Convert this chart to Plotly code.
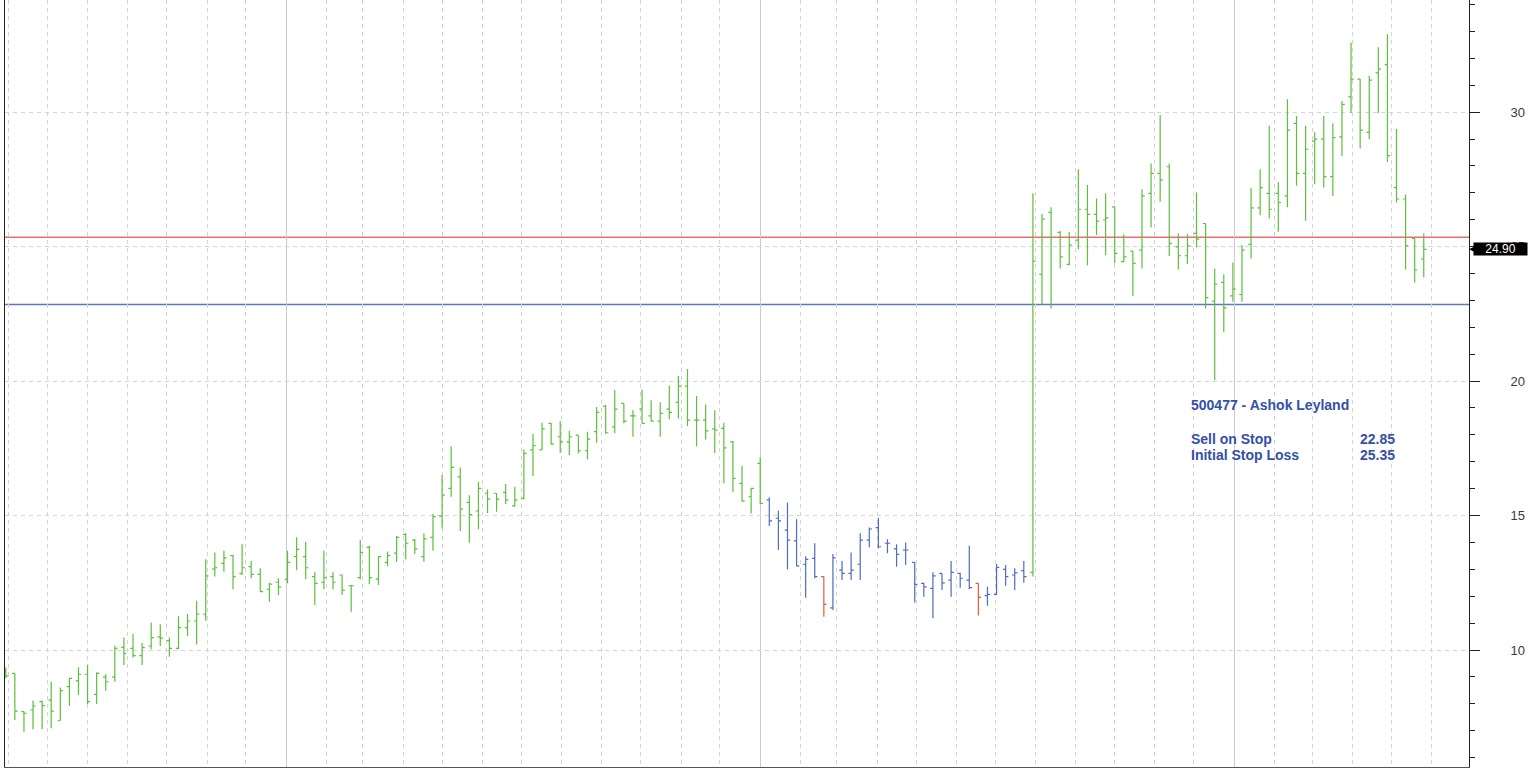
import pandas as pd
import plotly.graph_objects as go

# ---------------- data ----------------
TITLE = "500477 - Ashok Leyland"
SELL_ON_STOP = 22.85
INITIAL_STOP_LOSS = 25.35
LAST_PRICE = 24.90

# weekly bars (Saturday stamps), first one is cut by the left edge
week = pd.date_range("2009-05-30", periods=157, freq="7D")

open_ = [
    9.20, 9.13, 7.71, 7.77, 8.08, 8.14, 7.37, 8.64, 8.85, 9.10,
    8.35, 8.99, 8.99, 10.10, 10.06, 9.79, 10.15, 10.49, 10.35, 10.06,
    10.83, 11.08, 11.33, 13.01, 13.22, 13.51, 12.85, 13.10, 12.81, 12.26,
    12.52, 12.63, 13.47, 13.47, 12.73, 12.52, 12.73, 12.79, 12.39, 12.69,
    13.82, 12.64, 13.26, 13.60, 14.30, 14.09, 13.47, 14.19, 14.98, 16.01,
    16.44, 15.49, 15.17, 15.83, 15.83, 15.86, 15.36, 15.64, 17.44, 17.44,
    18.43, 17.93, 17.74, 17.99, 17.41, 18.12, 19.07, 18.30, 19.17, 18.71,
    18.96, 18.71, 18.51, 18.96, 19.21, 19.81, 18.55, 18.55, 18.22, 18.24,
    17.74, 16.20, 15.70, 16.94, 15.58, 14.90, 14.46, 14.06, 13.19, 13.41,
    12.73, 11.57, 12.97, 12.85, 13.19, 14.09, 14.55, 13.97, 13.76, 13.72,
    13.26, 12.48, 12.29, 12.85, 12.60, 12.85, 12.60, 12.48, 12.02, 12.07,
    13.00, 12.79, 12.95, 12.89, 23.97, 26.27, 25.53, 24.34, 25.24, 26.39,
    26.20, 25.99, 26.48, 24.44, 24.83, 24.87, 26.98, 27.72, 27.97, 24.99,
    24.66, 25.49, 25.86, 22.97, 23.67, 23.17, 23.22, 25.08, 26.44, 26.98,
    26.98, 26.89, 29.58, 27.72, 28.92, 29.00, 27.60, 29.08, 30.57, 31.23,
    29.25, 31.46, 31.77, 27.19, 26.77, 25.31, 24.54,
]
high = [
    9.35, 9.13, 7.71, 8.12, 8.12, 8.82, 8.61, 8.97, 9.36, 9.44,
    9.17, 9.10, 10.16, 10.47, 10.60, 10.27, 11.02, 10.96, 10.47, 11.26,
    11.34, 11.83, 13.38, 13.63, 13.69, 13.53, 13.93, 13.32, 13.04, 12.50,
    12.67, 13.69, 14.19, 14.03, 12.89, 13.69, 12.89, 12.81, 12.42, 14.09,
    13.88, 13.49, 13.66, 14.24, 14.34, 14.13, 14.34, 15.06, 16.51, 17.58,
    16.79, 15.76, 16.26, 15.97, 15.83, 16.17, 16.07, 17.46, 18.03, 18.46,
    18.45, 18.52, 18.15, 17.99, 18.12, 19.04, 19.11, 19.67, 19.17, 18.92,
    19.69, 19.29, 19.21, 19.83, 20.19, 20.45, 19.45, 19.13, 18.92, 18.45,
    17.77, 16.84, 16.03, 17.16, 15.68, 15.18, 15.48, 14.86, 13.49, 13.97,
    12.73, 13.57, 13.31, 13.63, 14.34, 14.56, 14.92, 14.12, 13.93, 14.00,
    13.26, 12.50, 12.89, 12.85, 13.31, 12.87, 13.88, 12.48, 12.35, 13.20,
    13.16, 13.04, 13.31, 26.98, 26.21, 26.46, 25.58, 25.55, 27.88, 27.29,
    26.79, 26.98, 26.48, 25.45, 24.83, 27.13, 28.09, 29.89, 28.09, 25.49,
    25.47, 27.02, 25.86, 24.19, 23.97, 24.41, 25.06, 27.19, 27.88, 29.49,
    27.39, 30.48, 29.86, 29.49, 29.25, 29.86, 29.58, 30.41, 32.58, 31.23,
    31.35, 32.41, 32.90, 29.37, 26.94, 25.31, 25.49,
]
low = [
    8.95, 7.40, 6.96, 7.05, 7.05, 7.09, 7.37, 7.92, 8.33, 7.99,
    7.99, 8.49, 8.82, 9.44, 9.71, 9.44, 10.03, 10.15, 9.75, 10.03,
    10.52, 10.21, 11.09, 12.73, 12.91, 12.26, 12.79, 12.67, 12.17, 11.80,
    12.05, 12.48, 12.97, 12.63, 11.67, 12.26, 12.26, 12.05, 11.42, 12.63,
    12.45, 12.42, 13.12, 13.28, 13.37, 13.57, 13.28, 13.69, 14.52, 15.70,
    14.43, 13.99, 14.49, 15.10, 15.14, 15.43, 15.33, 15.60, 16.47, 17.44,
    17.64, 17.33, 17.25, 17.31, 17.09, 17.71, 18.03, 18.06, 18.43, 17.93,
    18.43, 18.49, 17.93, 18.58, 18.61, 18.33, 17.58, 17.83, 17.33, 16.20,
    15.89, 15.51, 15.08, 15.43, 14.61, 13.72, 13.00, 13.12, 11.94, 12.67,
    11.24, 11.49, 12.60, 12.60, 12.60, 13.82, 13.78, 13.60, 13.10, 13.16,
    11.77, 11.98, 11.18, 12.23, 11.98, 12.32, 12.27, 11.28, 11.65, 12.05,
    12.39, 12.23, 12.50, 12.73, 22.86, 22.70, 24.19, 24.31, 24.90, 24.31,
    25.43, 24.68, 24.38, 24.44, 23.16, 24.19, 25.71, 26.67, 24.65, 24.15,
    24.35, 24.97, 22.70, 20.04, 21.83, 22.95, 22.95, 24.56, 26.17, 26.05,
    25.55, 26.46, 27.26, 25.96, 27.32, 27.20, 26.88, 28.37, 29.97, 28.65,
    28.99, 29.97, 28.15, 26.64, 24.15, 23.67, 23.86,
]
close = [
    9.04, 7.73, 7.65, 7.92, 7.93, 7.73, 8.49, 8.95, 9.10, 8.08,
    9.13, 8.82, 10.06, 9.88, 9.79, 10.09, 10.46, 10.44, 10.06, 10.83,
    11.08, 11.34, 12.76, 13.06, 13.43, 12.73, 13.06, 12.81, 12.17, 12.45,
    12.35, 13.26, 13.74, 13.06, 12.48, 12.69, 12.52, 12.23, 12.39, 13.63,
    12.69, 13.47, 13.51, 14.19, 13.97, 13.76, 14.13, 14.96, 15.76, 16.79,
    15.24, 15.04, 16.01, 15.61, 15.61, 15.58, 15.58, 17.31, 17.60, 18.22,
    17.66, 17.74, 17.93, 17.41, 17.84, 18.84, 18.08, 18.96, 18.51, 18.71,
    18.43, 18.51, 18.80, 18.84, 19.81, 18.55, 18.55, 18.15, 18.18, 17.52,
    16.38, 15.54, 16.01, 15.45, 14.80, 14.80, 14.09, 13.13, 13.37, 12.73,
    11.70, 13.43, 12.85, 12.97, 14.09, 14.50, 13.84, 13.97, 13.56, 13.72,
    12.44, 12.35, 12.76, 12.50, 12.89, 12.67, 12.32, 11.96, 12.07, 13.07,
    12.73, 12.87, 12.73, 24.46, 26.02, 25.34, 24.62, 25.06, 26.39, 26.20,
    25.95, 26.07, 24.75, 24.62, 24.38, 26.89, 27.72, 27.47, 25.12, 24.66,
    25.03, 25.28, 23.10, 23.60, 22.72, 23.42, 24.87, 26.44, 27.19, 26.39,
    26.64, 29.33, 27.72, 28.62, 29.00, 27.60, 29.05, 30.29, 31.23, 29.33,
    31.19, 31.60, 28.38, 26.77, 25.03, 24.13, 24.90,
]
# bar colouring state: L = long (green), S = short (blue), X = stop hit (red)
signal = (["L"] * 84 + ["S"] * 6 + ["X"] + ["S"] * 16 + ["X"]
          + ["S"] * 5 + ["L"] * 44)

# ---------------- styling ----------------
COLORS = {"L": "#5dbf3c", "S": "#4f6cbf", "X": "#e8583a"}
FONT = "Liberation Sans, Arial, sans-serif"
TEXT_BLUE = "#3450a6"

fig = go.Figure()
for key, color in COLORS.items():
    idx = [i for i, s in enumerate(signal) if s == key]
    fig.add_trace(go.Ohlc(
        x=[week[i] for i in idx],
        open=[open_[i] for i in idx],
        high=[high[i] for i in idx],
        low=[low[i] for i in idx],
        close=[close[i] for i in idx],
        increasing=dict(line=dict(color=color, width=1.2)),
        decreasing=dict(line=dict(color=color, width=1.2)),
        tickwidth=0.3,
        showlegend=False,
        hoverinfo="x+y",
    ))

fig.add_hline(y=INITIAL_STOP_LOSS, line=dict(color="#ea6e6e", width=1.5), layer="below")
fig.add_hline(y=SELL_ON_STOP, line=dict(color="#6076bd", width=1.5), layer="below")

# info block
info_x = 0.8088
val_x = 0.9511
fig.add_annotation(x=info_x, xref="paper", y=19.11, yref="y", text=TITLE,
                   showarrow=False, xanchor="left", yanchor="middle",
                   font=dict(family=FONT, size=14, color=TEXT_BLUE, weight="bold"))
fig.add_annotation(x=info_x, xref="paper", y=17.83, yref="y", text="Sell on Stop",
                   showarrow=False, xanchor="left", yanchor="middle",
                   font=dict(family=FONT, size=14, color=TEXT_BLUE, weight="bold"))
fig.add_annotation(x=val_x, xref="paper", y=17.83, yref="y", text=f"{SELL_ON_STOP:.2f}",
                   showarrow=False, xanchor="right", yanchor="middle",
                   font=dict(family=FONT, size=14, color=TEXT_BLUE, weight="bold"))
fig.add_annotation(x=info_x, xref="paper", y=17.25, yref="y", text="Initial Stop Loss",
                   showarrow=False, xanchor="left", yanchor="middle",
                   font=dict(family=FONT, size=14, color=TEXT_BLUE, weight="bold"))
fig.add_annotation(x=val_x, xref="paper", y=17.25, yref="y", text=f"{INITIAL_STOP_LOSS:.2f}",
                   showarrow=False, xanchor="right", yanchor="middle",
                   font=dict(family=FONT, size=14, color=TEXT_BLUE, weight="bold"))

# last price marker on the price axis
fig.add_annotation(x=1, xref="paper", y=LAST_PRICE, yref="y", text=f"{LAST_PRICE:.2f}",
                   showarrow=True, ax=31, ay=0, arrowhead=2, arrowsize=1.2,
                   arrowwidth=2, arrowcolor="black", standoff=0,
                   bgcolor="black", width=51, height=10, borderpad=1, align="center",
                   font=dict(family=FONT, size=12, color="white"))

fig.update_layout(
    width=1529, height=769,
    margin=dict(l=5, r=60, t=0, b=2),
    paper_bgcolor="white", plot_bgcolor="white",
    font=dict(family=FONT),
    showlegend=False,
    xaxis=dict(
        type="date",
        range=["2009-05-29 10:00", "2012-06-29 20:00"],
        rangeslider=dict(visible=False),
        showticklabels=False, ticks="",
        dtick="M12", tick0="2000-01-01",
        showgrid=True, gridcolor="#cbcbcb", gridwidth=1,
        minor=dict(dtick="M1", tick0="2000-01-01", showgrid=True,
                   gridcolor="#d4d4d4", griddash="4px,4px", ticks=""),
        showline=True, linecolor="#555555", linewidth=1,
        zeroline=False,
    ),
    yaxis=dict(
        side="right",
        range=[5.651, 34.17],
        dtick=5, tick0=0,
        ticks="outside", ticklen=10, tickwidth=1, tickcolor="#222222",
        minor=dict(dtick=1, tick0=0, ticks="outside", ticklen=5,
                   tickcolor="#222222", showgrid=False),
        showgrid=True, gridcolor="#d4d4d4", griddash="4px,4px",
        showline=True, linecolor="#222222", linewidth=1, mirror=True,
        zeroline=False,
        tickfont=dict(family=FONT, size=13, color="#3a3a3a"),
        ticklabelstandoff=28,
    ),
)

fig.write_html("out.html", config={"displayModeBar": False},
               post_script="document.body.style.margin='0px';")
